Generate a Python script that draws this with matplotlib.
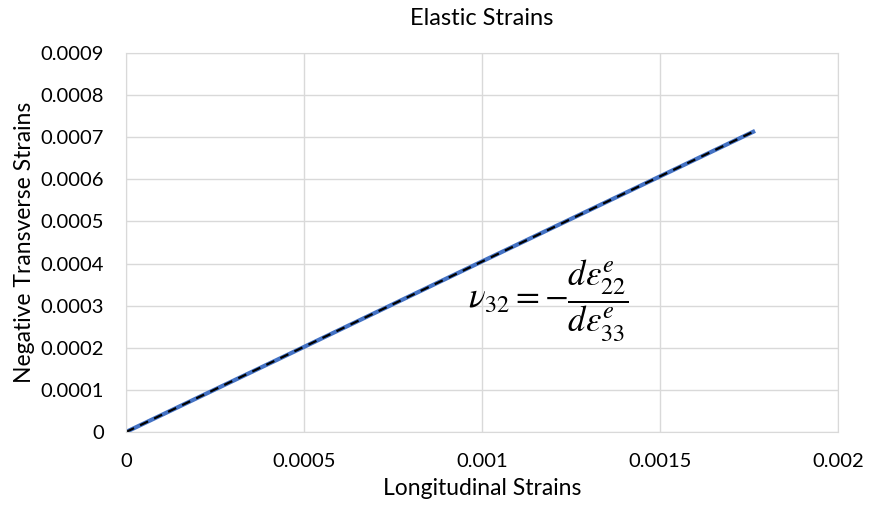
import numpy as np
import matplotlib.pyplot as plt

# data
long_strain = [0.0, 0.0005, 0.001, 0.0015, 0.001767]
trans_strain = [0.0, 0.000202, 0.000405, 0.000607, 0.000715]
fit_slope = 0.4047

x_ticks = [0, 0.0005, 0.001, 0.0015, 0.002]
x_tick_labels = ['0', '0.0005', '0.001', '0.0015', '0.002']
y_ticks = [0, 0.0001, 0.0002, 0.0003, 0.0004, 0.0005, 0.0006, 0.0007, 0.0008, 0.0009]
y_tick_labels = ['0', '0.0001', '0.0002', '0.0003', '0.0004', '0.0005', '0.0006', '0.0007', '0.0008', '0.0009']

plt.rcParams['font.family'] = ['Lato', 'DejaVu Sans']
plt.rcParams['mathtext.fontset'] = 'stix'

fig = plt.figure(figsize=(8.71, 5.15), dpi=100)
ax = fig.add_axes([0.1447, 0.1612, 0.8174, 0.7359])

x = np.asarray(long_strain)
ax.plot(x, trans_strain, color='#4472C4', linewidth=3, solid_capstyle='butt')
ax.plot(x, fit_slope * x, color='black', linewidth=1.6, linestyle=(0, (4, 3)))

ax.set_xlim(0, 0.002)
ax.set_ylim(0, 0.0009)
ax.set_xticks(x_ticks)
ax.set_xticklabels(x_tick_labels)
ax.set_yticks(y_ticks)
ax.set_yticklabels(y_tick_labels)
ax.tick_params(length=0, labelsize=14.5, colors='black')
ax.tick_params(axis='x', pad=15)
ax.tick_params(axis='y', pad=16)
ax.grid(True, color='#D9D9D9', linewidth=1)
ax.set_axisbelow(True)
for side in ['top', 'right', 'left', 'bottom']:
    ax.spines[side].set_color('#D9D9D9')

ax.set_title('Elastic Strains', fontsize=17, pad=20)
ax.set_xlabel('Longitudinal Strains', fontsize=16.5, labelpad=6)
ax.set_ylabel('Negative Transverse Strains', fontsize=16.5, labelpad=4)

# Poisson ratio annotation
ax.text(0.001185, 0.00031,
        r'$\nu_{32}=-\dfrac{d\varepsilon_{22}^{e}}{d\varepsilon_{33}^{e}}$',
        fontsize=25, ha='center', va='center')

plt.savefig('out.png', dpi=100)
